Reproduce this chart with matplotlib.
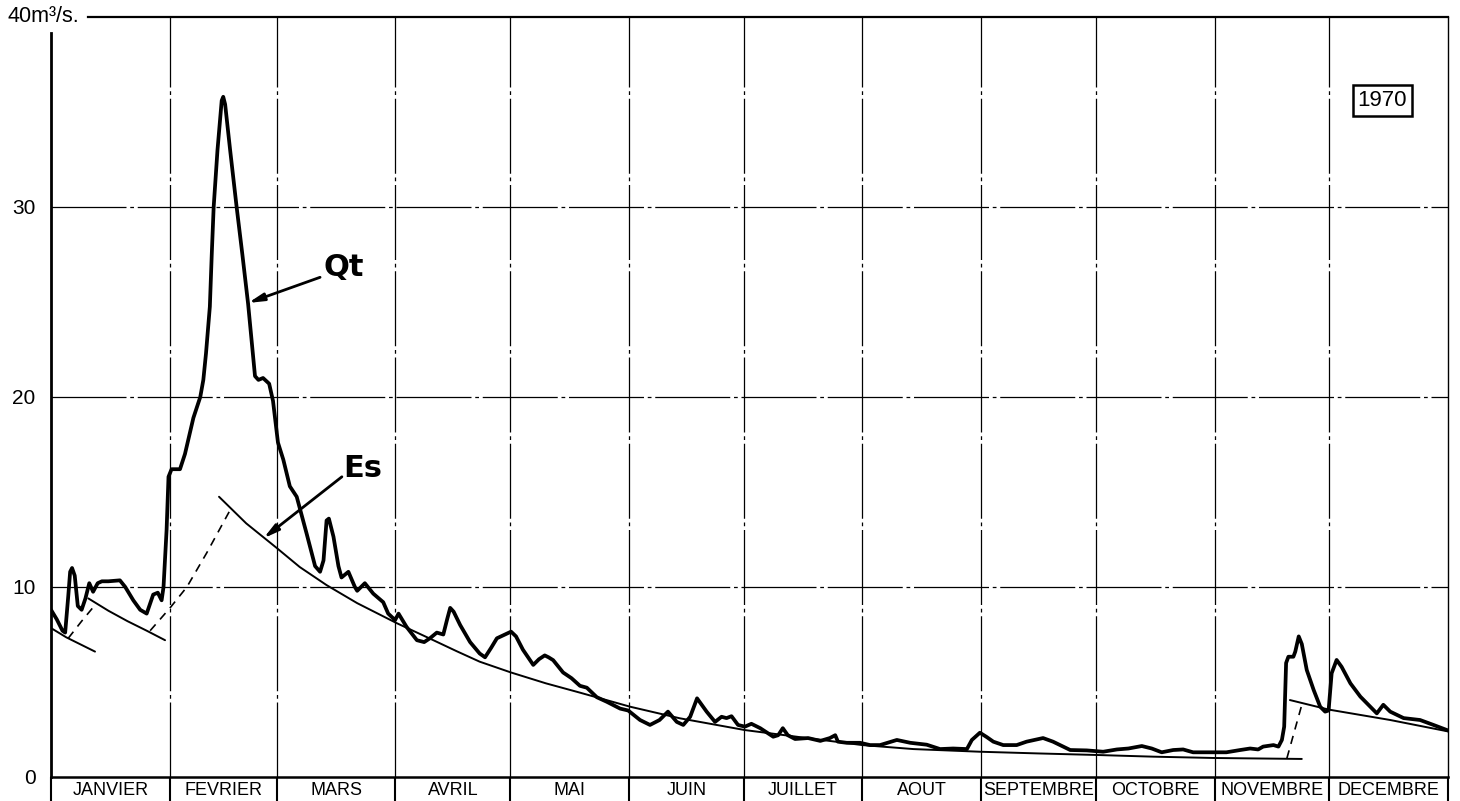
import numpy as np
import matplotlib
matplotlib.use('Agg')
import matplotlib.pyplot as plt

plt.rcParams['font.family'] = ['Liberation Sans', 'DejaVu Sans']

# --- date (zi din an, debit m3/s) ---
MONTHS = ['JANVIER', 'FEVRIER', 'MARS', 'AVRIL', 'MAI', 'JUIN', 'JUILLET',
          'AOUT', 'SEPTEMBRE', 'OCTOBRE', 'NOVEMBRE', 'DECEMBRE']
MONTH_DAYS = [31, 28, 31, 30, 31, 30, 31, 31, 30, 31, 30, 31]
Y_TICKS = [0, 10, 20, 30]
Y_MAX = 40
Y_TOP_LABEL = '40m³/s.'
YEAR = '1970'

# debit total Qt
QT_DAY = [0, 1.5, 3.0, 3.7, 4.5, 5.0, 5.5, 6.2, 7.0, 8.0, 9.0, 10.0, 11.0, 12.2,
          13.3, 15.0, 18.0, 19.4, 21.5, 23.3, 25.0, 26.7, 27.9, 28.9, 29.4, 30.2,
          30.7, 31.5, 33.7, 35.0, 37.2, 39.0, 39.8, 40.5, 41.5, 42.0, 42.5, 43.5,
          44.6, 45.0, 45.5, 46.8, 48.5, 50.0, 51.5, 53.3, 54.2, 55.4, 57.0, 58.0,
          59.3, 60.7, 62.4, 64.2, 66.8, 69.0, 70.3, 71.2, 72.0, 72.6, 73.8, 75.1,
          75.9, 77.7, 79.4, 80.0, 82.0, 84.2, 86.8, 88.1, 89.9, 90.8, 92.9, 95.6,
          97.5, 99.0, 100.8, 102.5, 103.5, 104.3, 105.2, 106.9, 109.5, 112.0,
          113.4, 115.0, 116.5, 118.6, 120.2, 121.5, 123.3, 126.0, 127.5, 129.0,
          130.0, 131.2, 133.8, 136.0, 138.2, 140.0, 142.6, 145.2, 148.7, 150.8,
          153.9, 156.5, 159.0, 161.2, 163.5, 165.2, 167.0, 168.8, 171.3, 173.5,
          175.2, 176.5, 177.8, 179.5, 181.3, 183.0, 185.3, 188.7, 190.0, 191.2,
          192.5, 194.4, 197.8, 201.0, 203.5, 204.9, 205.6, 207.9, 211.4, 214.0,
          216.6, 221.0, 224.5, 228.8, 232.3, 235.7, 239.3, 240.6, 242.7, 244.5,
          246.2, 248.8, 252.3, 254.9, 259.2, 261.8, 266.3, 270.6, 274.9, 278.5,
          281.5, 285.0, 287.6, 290.2, 293.2, 295.8, 298.4, 303.6, 307.1, 310.7,
          313.3, 315.4, 316.7, 319.4, 320.7, 321.6, 322.2, 322.7, 323.3, 324.6,
          325.1, 326.0, 326.8, 328.1, 329.9, 331.6, 332.9, 333.8, 334.6, 335.9,
          337.2, 339.5, 342.1, 344.7, 346.4, 348.1, 349.9, 353.4, 357.7, 361.2,
          365.0]
QT_VAL = [8.8, 8.3, 7.7, 7.6, 9.5, 10.8, 11.0, 10.6, 9.0, 8.8, 9.4, 10.2, 9.75, 10.2,
          10.3, 10.3, 10.35, 10.0, 9.3, 8.8, 8.6, 9.6, 9.7, 9.3, 10.0, 13.0,
          15.8, 16.2, 16.2, 17.0, 18.9, 20.0, 20.9, 22.3, 24.75, 27.5, 30.0, 33.0,
          35.6, 35.8, 35.4, 33.0, 30.0, 27.5, 24.9, 21.1, 20.9, 21.0, 20.7, 19.8,
          17.6, 16.7, 15.3, 14.75, 12.8, 11.1, 10.8, 11.4, 13.5, 13.6, 12.65, 11.1,
          10.5, 10.8, 10.0, 9.8, 10.2, 9.65, 9.2, 8.6, 8.26, 8.6, 7.9, 7.2,
          7.1, 7.3, 7.6, 7.5, 8.3, 8.9, 8.7, 8.0, 7.1, 6.5,
          6.3, 6.8, 7.3, 7.5, 7.65, 7.4, 6.7, 5.9, 6.2, 6.4,
          6.3, 6.15, 5.5, 5.2, 4.8, 4.7, 4.2, 3.96, 3.6, 3.5,
          3.0, 2.74, 3.0, 3.44, 2.9, 2.74, 3.17, 4.14, 3.44, 2.9,
          3.17, 3.1, 3.2, 2.74, 2.65, 2.8, 2.57, 2.12, 2.2, 2.57,
          2.2, 2.0, 2.05, 1.9, 2.05, 2.2, 1.86, 1.8, 1.8, 1.68,
          1.68, 1.95, 1.8, 1.7, 1.47, 1.5, 1.47, 1.95, 2.33, 2.1,
          1.86, 1.68, 1.68, 1.86, 2.05, 1.86, 1.42, 1.4, 1.33, 1.45,
          1.5, 1.63, 1.5, 1.3, 1.42, 1.45, 1.3, 1.3, 1.3, 1.42,
          1.5, 1.45, 1.6, 1.68, 1.6, 1.95, 2.65, 6.0, 6.33, 6.33,
          6.6, 7.4, 7.0, 5.63, 4.58, 3.7, 3.44, 3.5, 5.46, 6.16,
          5.8, 4.93, 4.23, 3.7, 3.35, 3.8, 3.44, 3.1, 3.0, 2.74,
          2.45]

# curbe de secare Es (linie continua)
ES1_DAY = [0, 4.0, 8.0, 11.5]
ES1_VAL = [7.84, 7.35, 6.95, 6.6]
ES2_DAY = [9.75, 15.0, 20.0, 25.0, 29.8]
ES2_VAL = [9.4, 8.75, 8.2, 7.7, 7.2]
ES3_DAY = [43.9, 51.0, 59.0, 65.0, 72.0, 80.0, 90.3, 99.9, 106.0, 112.0, 120.2,
           129.3, 138.2, 151.3, 164.3, 181.3, 194.8, 212.0, 225.3, 242.7, 258.0,
           273.0, 288.0, 304.0, 326.8]
ES3_VAL = [14.75, 13.35, 12.05, 11.05, 10.1, 9.15, 8.1, 7.2, 6.62, 6.07, 5.5,
           4.93, 4.44, 3.7, 3.09, 2.47, 2.12, 1.68, 1.47, 1.33, 1.24,
           1.16, 1.07, 1.0, 0.95]
ES4_DAY = [323.7, 333.8, 349.9, 365.0]
ES4_VAL = [4.05, 3.55, 3.0, 2.4]

# legaturi intre curbe (linie punctata)
LINK1_DAY = [4.5, 8.0, 11.5]
LINK1_VAL = [7.3, 8.2, 9.05]
LINK2_DAY = [25.9, 31.1, 35.5, 40.7, 46.8]
LINK2_VAL = [7.7, 8.9, 10.0, 11.8, 14.05]
LINK3_DAY = [322.9, 326.8]
LINK3_VAL = [0.98, 3.8]


fig = plt.figure(figsize=(14.6, 8.01), dpi=100)
ax = fig.add_axes([51 / 1460, 24 / 801, 1397 / 1460, 760 / 801])

bounds = np.concatenate([[0], np.cumsum(MONTH_DAYS)])
year_len = bounds[-1]

ax.set_xlim(0, year_len)
ax.set_ylim(0, Y_MAX)

# grila
grid_style = dict(color='black', lw=0.9, linestyles=[(0, (60, 3, 3, 3))])
ax.hlines(Y_TICKS[1:], 0, year_len, **grid_style)
ax.vlines(bounds[1:-1], 0, Y_MAX, **grid_style)

# rama
for side in ['left', 'right', 'top', 'bottom']:
    ax.spines[side].set_color('black')
ax.spines['left'].set_linewidth(2.0)
ax.spines['left'].set_bounds(0, Y_MAX - 0.85)
ax.spines['bottom'].set_linewidth(1.8)
ax.spines['top'].set_linewidth(1.6)
ax.spines['top'].set_bounds(9.7, year_len)
ax.spines['right'].set_linewidth(1.0)

ax.set_xticks([])
ax.set_yticks(Y_TICKS)
ax.set_yticklabels([str(v) for v in Y_TICKS])
ax.tick_params(axis='y', length=0, pad=11, labelsize=15)
fig.text(7 / 1460, 1 - 17 / 801, Y_TOP_LABEL, fontsize=15.5, ha='left', va='center')

# casute luni sub axa
ax.vlines(bounds, -1.35, 0, color='black', lw=1.5, clip_on=False)
for i, name in enumerate(MONTHS):
    mid = (bounds[i] + bounds[i + 1]) / 2
    ax.annotate(name, xy=(mid, 0), xytext=(0, -9.5), textcoords='offset points',
                ha='center', va='center', fontsize=13, annotation_clip=False)

# curbe
line_kw = dict(color='black', solid_joinstyle='round', solid_capstyle='round')
ax.plot(QT_DAY, QT_VAL, lw=2.7, **line_kw)
for d, v in [(ES1_DAY, ES1_VAL), (ES2_DAY, ES2_VAL), (ES3_DAY, ES3_VAL), (ES4_DAY, ES4_VAL)]:
    ax.plot(d, v, lw=1.4, **line_kw)
for d, v in [(LINK1_DAY, LINK1_VAL), (LINK2_DAY, LINK2_VAL), (LINK3_DAY, LINK3_VAL)]:
    ax.plot(d, v, color='black', lw=1.2, linestyle=(0, (5, 4)))

# etichete Qt / Es cu sageti
arrow = dict(arrowstyle='-|>,head_length=0.9,head_width=0.22', color='black', lw=2.0,
             shrinkA=0, shrinkB=0)
ax.annotate('', xy=(51.5, 24.95), xytext=(70.3, 26.3), arrowprops=arrow)
ax.text(71.3, 26.8, 'Qt', fontsize=22, fontweight='bold', ha='left', va='center',
        family=['DejaVu Sans'])
ax.annotate('', xy=(55.5, 12.56), xytext=(76.0, 15.8), arrowprops=arrow)
ax.text(76.3, 16.25, 'Es', fontsize=22, fontweight='bold', ha='left', va='center',
        family=['DejaVu Sans'])

ax.text(347.8, 35.6, YEAR, fontsize=16, ha='center', va='center',
        bbox=dict(boxstyle='square,pad=0.22', fc='white', ec='black', lw=1.8))

fig.savefig('out.png', dpi=100)
